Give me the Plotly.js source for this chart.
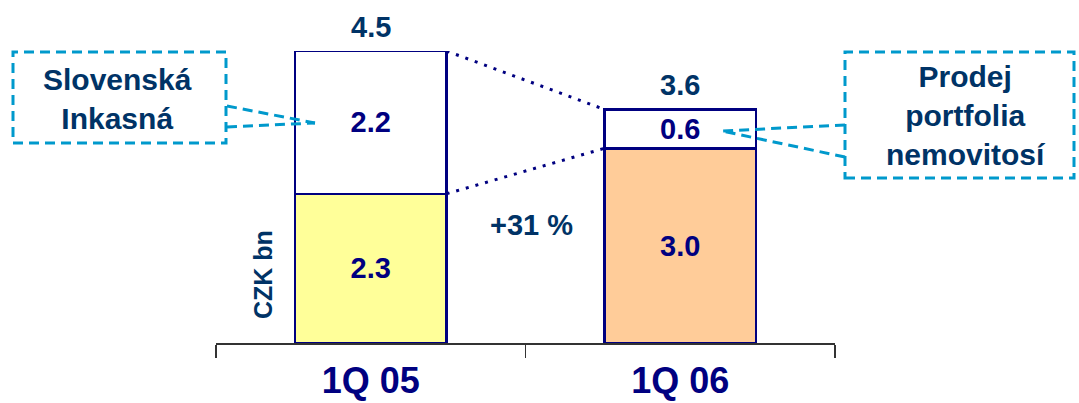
<!DOCTYPE html>
<html>
<head>
<meta charset="utf-8">
<script src="https://cdn.plot.ly/plotly-3.0.1.min.js"></script>
<style>html,body{margin:0;padding:0;background:#fff;}#chart{width:1079px;height:403px;}</style>
</head>
<body>
<div id="chart"></div>
<script>
// ---- data ----
const categories = ['1Q 05', '1Q 06'];
const baseValues = [2.3, 3.0];      // organic
const extraValues = [2.2, 0.6];     // Slovenská Inkasná / Prodej portfolia nemovitostí
const baseColors = ['#FFFF99', '#FFCC99'];
const growthLabel = '+31 %';
const unitLabel = 'CZK bn';
const calloutLeft = 'Slovenská<br>Inkasná';
const calloutRight = 'Prodej<br>portfolia<br>nemovitosí';

const totals = baseValues.map((v, i) => +(v + extraValues[i]).toFixed(1));

// ---- layout helpers ----
const W = 1079, H = 403;
const L = 216, R = 835, T = 51, B = 343;
const px = x => (x - L) / (R - L);
const py = y => (B - y) / (B - T);
const navy = '#000080', dark = '#003366', cyan = '#0099CC';
const FONT = 'Liberation Sans, Arial, sans-serif';
const barW = 0.49;

const traces = [
  {
    type: 'bar', x: categories, y: baseValues, width: barW,
    marker: {color: baseColors, line: {color: navy, width: 2.5}},
    texttemplate: '%{y:.1f}', textposition: 'inside', insidetextanchor: 'middle',
    textangle: 0, constraintext: 'none',
    textfont: {family: FONT, size: 29, color: navy, weight: 'bold'},
    hoverinfo: 'skip'
  },
  {
    type: 'bar', x: categories, y: extraValues, width: barW,
    marker: {color: '#FFFFFF', line: {color: navy, width: 2.5}},
    texttemplate: '%{y:.1f}', textposition: 'inside', insidetextanchor: 'middle',
    textangle: 0, constraintext: 'none',
    textfont: {family: FONT, size: 29, color: navy, weight: 'bold'},
    hoverinfo: 'skip'
  }
];

const shapes = [];
// dotted connectors between bars (from data)
const x0 = 0 + barW / 2, x1 = 1 - barW / 2;
shapes.push({type: 'line', xref: 'x', yref: 'y', x0: x0, x1: x1, y0: totals[0], y1: totals[1],
  line: {color: navy, width: 3, dash: '3px,7px'}});
shapes.push({type: 'line', xref: 'x', yref: 'y', x0: x0, x1: x1, y0: baseValues[0], y1: baseValues[1],
  line: {color: navy, width: 3, dash: '3px,7px'}});

// callout boxes
const dashed = {color: cyan, width: 3, dash: '10px,6px'};
shapes.push({type: 'rect', xref: 'paper', yref: 'paper', x0: px(13), x1: px(226), y0: py(143), y1: py(52), line: dashed});
shapes.push({type: 'rect', xref: 'paper', yref: 'paper', x0: px(845), x1: px(1074), y0: py(178), y1: py(52), line: dashed});
// leader lines
shapes.push({type: 'line', xref: 'paper', yref: 'paper', x0: px(227), y0: py(106), x1: px(315), y1: py(123), line: dashed});
shapes.push({type: 'line', xref: 'paper', yref: 'paper', x0: px(227), y0: py(127), x1: px(315), y1: py(123), line: dashed});
shapes.push({type: 'line', xref: 'paper', yref: 'paper', x0: px(845), y0: py(125), x1: px(722), y1: py(131), line: dashed});
shapes.push({type: 'line', xref: 'paper', yref: 'paper', x0: px(845), y0: py(157), x1: px(722), y1: py(131), line: dashed});

const annFont = (size, color) => ({family: FONT, size: size, color: color, weight: 'bold'});
const annotations = [];
categories.forEach((c, i) => {
  annotations.push({x: c, y: totals[i], xref: 'x', yref: 'y', text: totals[i].toFixed(1),
    showarrow: false, yanchor: 'bottom', yshift: 6, font: annFont(29, dark)});
});
annotations.push({xref: 'paper', yref: 'paper', x: px(118), y: py(99), text: calloutLeft,
  showarrow: false, xanchor: 'center', yanchor: 'middle', font: annFont(30, dark)});
annotations.push({xref: 'paper', yref: 'paper', x: px(966), y: py(115), text: calloutRight,
  showarrow: false, xanchor: 'center', yanchor: 'middle', font: annFont(30, dark)});
annotations.push({xref: 'paper', yref: 'paper', x: px(531), y: py(225), text: growthLabel,
  showarrow: false, xanchor: 'center', yanchor: 'middle', font: annFont(29, dark)});
annotations.push({xref: 'paper', yref: 'paper', x: px(263), y: py(275), text: unitLabel, textangle: -90,
  showarrow: false, xanchor: 'center', yanchor: 'middle', font: annFont(25, dark)});

const layout = {
  width: W, height: H,
  margin: {l: L, r: W - R, t: T, b: H - B, pad: 0},
  paper_bgcolor: '#fff', plot_bgcolor: 'rgba(0,0,0,0)',
  barmode: 'stack', showlegend: false,
  xaxis: {
    type: 'category', range: [-0.5, 1.5], tickson: 'boundaries',
    showline: true, linecolor: '#333333', linewidth: 1.5,
    ticks: 'outside', ticklen: 13, tickwidth: 1.5, tickcolor: '#333333',
    showgrid: false, zeroline: false, fixedrange: true,
    tickfont: {family: FONT, size: 36, color: navy, weight: 'bold'},
    ticklabelstandoff: 5
  },
  yaxis: {range: [0, 4.5], visible: false, showgrid: false, zeroline: false, fixedrange: true},
  shapes: shapes, annotations: annotations
};

Plotly.newPlot('chart', traces, layout, {displayModeBar: false, staticPlot: true});
</script>
</body>
</html>
